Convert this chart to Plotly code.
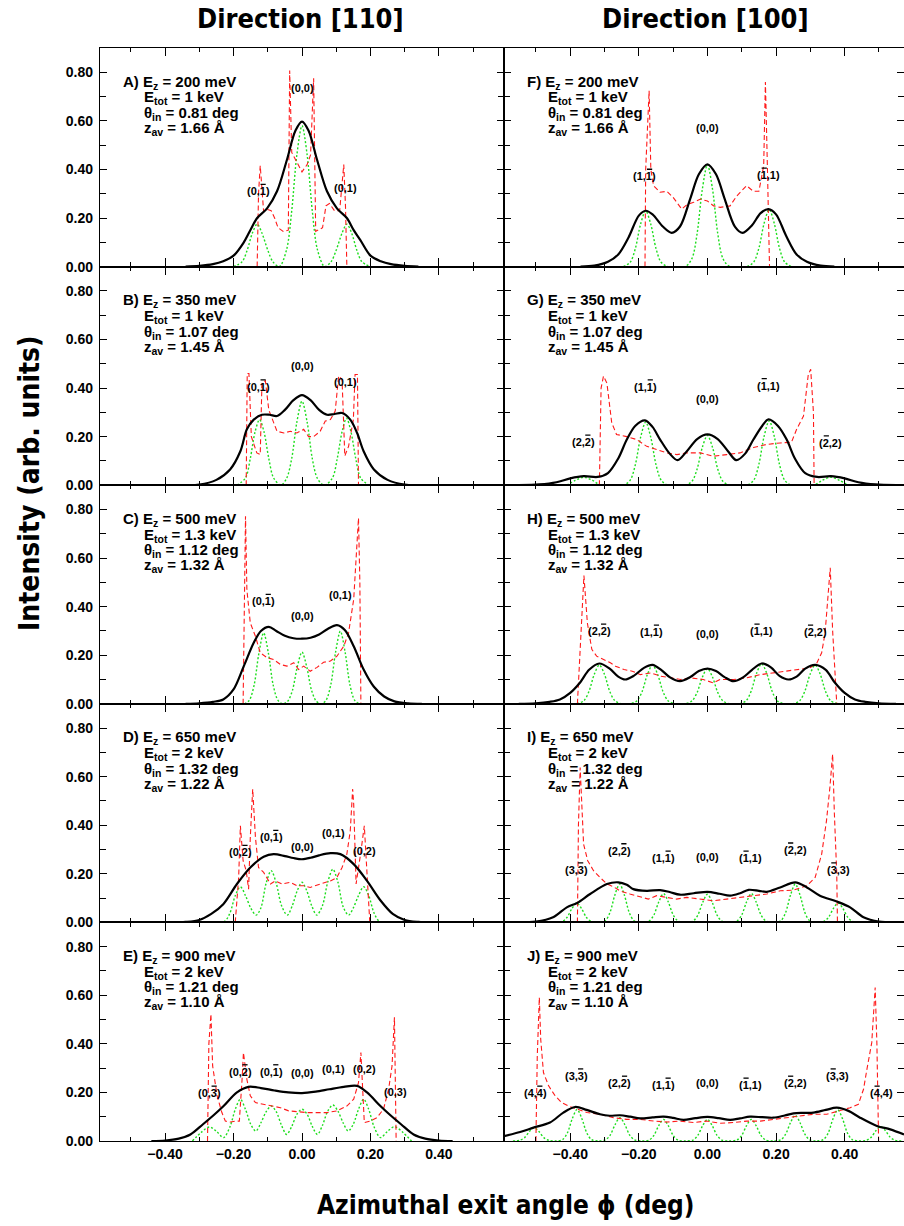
import plotly.graph_objects as go
from plotly.subplots import make_subplots

# ---------------- data ----------------
X_TICKS = [-0.4, -0.2, 0.0, 0.2, 0.4]
X_TICK_TEXT = ["\u22120.40", "\u22120.20", "0.00", "0.20", "0.40"]
X_MINOR = [-0.5, -0.3, -0.1, 0.1, 0.3, 0.5]
Y_TICKS = [0.0, 0.2, 0.4, 0.6, 0.8]
Y_TICK_TEXT = ["0.00", "0.20", "0.40", "0.60", "0.80"]
Y_MINOR = [0.1, 0.3, 0.5, 0.7]

COLUMN_TITLES = ["Direction [110]", "Direction [100]"]
PANEL_LETTERS = [["A", "B", "C", "D", "E"], ["F", "G", "H", "I", "J"]]
EZ_MEV = ["200", "350", "500", "650", "900"]
ETOT_KEV = ["1", "1", "1.3", "2", "2"]
THETA_IN = ["0.81", "1.07", "1.12", "1.32", "1.21"]
Z_AV = ["1.66", "1.45", "1.32", "1.22", "1.10"]

# labels: (x, y, text, which index carries an overbar: 0 none, 1 first, 2 second)
# ---- Panel A ----
A_black_x = [-0.34,-0.30,-0.26,-0.23,-0.20,-0.17,-0.151,-0.131,-0.102,-0.073,-0.044,-0.019,0,0.019,0.044,0.073,0.102,0.131,0.151,0.17,0.20,0.23,0.26,0.30,0.34]
A_black_y = [0,0.003,0.01,0.022,0.045,0.10,0.15,0.20,0.24,0.31,0.44,0.56,0.597,0.56,0.44,0.31,0.24,0.20,0.15,0.11,0.045,0.022,0.01,0.003,0]
A_green_x = [-0.20,-0.175,-0.16,-0.145,-0.131,-0.117,-0.10,-0.085,-0.066,-0.045,-0.03,-0.015,0,0.015,0.03,0.045,0.066,0.085,0.10,0.117,0.131,0.145,0.16,0.175,0.20]
A_green_y = [0,0.02,0.068,0.138,0.175,0.138,0.068,0.02,0,0.07,0.23,0.46,0.58,0.46,0.23,0.07,0,0.02,0.068,0.138,0.175,0.138,0.068,0.02,0]
A_red_x = [-0.131,-0.127,-0.122,-0.116,-0.112,-0.10,-0.09,-0.08,-0.07,-0.055,-0.04,-0.036,-0.03,-0.015,0,0.015,0.025,0.034,0.04,0.06,0.07,0.08,0.095,0.11,0.122,0.127,0.131]
A_red_y = [0,0.30,0.416,0.30,0.225,0.235,0.23,0.20,0.16,0.145,0.15,0.807,0.47,0.43,0.39,0.42,0.46,0.775,0.145,0.16,0.25,0.26,0.23,0.23,0.42,0.25,0]
A_labels = [(-0.127, 0.31, "(0,1)", 2), (0.0, 0.734, "(0,0)", 0), (0.128, 0.322, "(0,1)", 0)]

# ---- Panel B ----
B_black_x = [-0.34,-0.30,-0.25,-0.21,-0.18,-0.161,-0.141,-0.117,-0.095,-0.073,-0.05,-0.025,0,0.025,0.05,0.073,0.095,0.117,0.141,0.161,0.18,0.21,0.25,0.30,0.34]
B_black_y = [0,0.002,0.022,0.065,0.14,0.23,0.27,0.29,0.29,0.285,0.31,0.35,0.371,0.35,0.31,0.29,0.293,0.297,0.27,0.215,0.14,0.065,0.022,0.002,0]
B_green_x = [-0.19,-0.165,-0.151,-0.137,-0.124,-0.111,-0.097,-0.083,-0.062,-0.045,-0.03,-0.015,0,0.015,0.03,0.045,0.065,0.089,0.103,0.117,0.13,0.143,0.157,0.171,0.195]
B_green_y = [0,0.03,0.11,0.22,0.27,0.22,0.11,0.03,0,0.028,0.11,0.26,0.346,0.26,0.11,0.028,0,0.03,0.11,0.22,0.276,0.22,0.11,0.03,0]
B_red_x = [-0.163,-0.160,-0.155,-0.148,-0.132,-0.122,-0.117,-0.107,-0.097,-0.087,-0.073,-0.053,-0.034,-0.015,0.005,0.019,0.034,0.053,0.068,0.083,0.097,0.107,0.117,0.125,0.136,0.15,0.155,0.162,0.165]
B_red_y = [0,0.46,0.46,0.2,0.133,0.126,0.42,0.43,0.31,0.27,0.222,0.215,0.222,0.215,0.23,0.2,0.2,0.222,0.264,0.27,0.305,0.45,0.435,0.12,0.16,0.27,0.456,0.456,0]
B_labels = [(-0.127, 0.405, "(0,1)", 2), (0.0, 0.49, "(0,0)", 0), (0.127, 0.425, "(0,1)", 0)]

# ---- Panel C ----
C_black_x = [-0.34,-0.30,-0.26,-0.23,-0.20,-0.17,-0.141,-0.12,-0.097,-0.075,-0.05,-0.025,0,0.025,0.05,0.075,0.102,0.125,0.151,0.18,0.21,0.24,0.27,0.31,0.35]
C_black_y = [0,0.002,0.008,0.018,0.059,0.155,0.251,0.3,0.317,0.3,0.28,0.27,0.268,0.272,0.285,0.308,0.324,0.304,0.237,0.141,0.07,0.03,0.01,0.002,0]
C_green_x = [-0.168,-0.154,-0.14,-0.126,-0.112,-0.098,-0.084,-0.07,-0.056,-0.042,-0.028,-0.014,0,0.014,0.028,0.042,0.056,0.07,0.084,0.098,0.112,0.126,0.14,0.154,0.168]
C_green_y = [0,0.014,0.076,0.207,0.292,0.207,0.076,0.014,0,0.01,0.055,0.151,0.213,0.151,0.055,0.01,0,0.014,0.078,0.212,0.299,0.212,0.078,0.014,0]
C_red_x = [-0.172,-0.168,-0.165,-0.161,-0.151,-0.136,-0.122,-0.102,-0.083,-0.063,-0.044,-0.024,-0.01,0.005,0.024,0.044,0.063,0.083,0.102,0.122,0.136,0.151,0.161,0.165,0.169,0.172]
C_red_y = [0,0.5,0.772,0.47,0.333,0.278,0.21,0.19,0.182,0.162,0.155,0.169,0.141,0.155,0.134,0.15,0.171,0.176,0.196,0.237,0.292,0.43,0.676,0.765,0.5,0]
C_labels = [(-0.112, 0.422, "(0,1)", 2), (0.0, 0.361, "(0,0)", 0), (0.112, 0.447, "(0,1)", 0)]

# ---- Panel D ----
D_black_x = [-0.38,-0.34,-0.30,-0.265,-0.23,-0.19,-0.151,-0.112,-0.083,-0.05,-0.025,0,0.025,0.05,0.083,0.112,0.151,0.19,0.23,0.265,0.30,0.34,0.38]
D_black_y = [0,0.002,0.01,0.035,0.075,0.158,0.226,0.27,0.281,0.273,0.265,0.26,0.266,0.276,0.285,0.281,0.24,0.171,0.089,0.035,0.01,0.002,0]
D_green_x = [-0.24,-0.225,-0.21,-0.195,-0.18,-0.165,-0.15,-0.134,-0.12,-0.105,-0.09,-0.075,-0.06,-0.043,-0.028,-0.014,0,0.014,0.028,0.043,0.06,0.075,0.09,0.105,0.12,0.136,0.15,0.165,0.18,0.195,0.21,0.225,0.24]
D_green_y = [0,0.005,0.04,0.11,0.147,0.11,0.06,0.03,0.06,0.16,0.213,0.16,0.07,0.03,0.07,0.13,0.165,0.13,0.07,0.03,0.07,0.165,0.219,0.165,0.065,0.03,0.06,0.11,0.147,0.11,0.04,0.005,0]
D_red_x = [-0.195,-0.185,-0.180,-0.172,-0.163,-0.156,-0.151,-0.144,-0.136,-0.127,-0.112,-0.092,-0.078,-0.058,-0.034,-0.015,0.005,0.024,0.054,0.083,0.102,0.117,0.131,0.141,0.148,0.151,0.158,0.164,0.171,0.182,0.19,0.198]
D_red_y = [0,0.185,0.398,0.254,0.213,0.137,0.35,0.549,0.35,0.226,0.206,0.158,0.171,0.158,0.165,0.151,0.151,0.144,0.158,0.171,0.185,0.226,0.281,0.377,0.549,0.487,0.158,0.213,0.281,0.398,0.185,0]
D_labels = [(-0.18, 0.288, "(0,2)", 2), (-0.09, 0.35, "(0,1)", 2), (0.0, 0.311, "(0,0)", 0),
            (0.092, 0.37, "(0,1)", 0), (0.182, 0.295, "(0,2)", 0)]

# ---- Panel E ----
E_black_x = [-0.44,-0.40,-0.36,-0.326,-0.29,-0.255,-0.229,-0.19,-0.156,-0.12,-0.08,-0.04,0,0.04,0.08,0.122,0.161,0.19,0.229,0.255,0.29,0.326,0.36,0.40,0.44]
E_black_y = [0,0.002,0.01,0.027,0.068,0.11,0.144,0.2,0.223,0.218,0.208,0.2,0.197,0.203,0.213,0.223,0.227,0.2,0.144,0.11,0.068,0.027,0.01,0.002,0]
E_green_x = [-0.32,-0.295,-0.27,-0.25,-0.229,-0.21,-0.195,-0.18,-0.165,-0.15,-0.135,-0.12,-0.105,-0.09,-0.075,-0.06,-0.045,-0.03,-0.015,0,0.015,0.03,0.045,0.06,0.075,0.09,0.105,0.12,0.135,0.15,0.165,0.18,0.195,0.21,0.229,0.25,0.27,0.295,0.32]
E_green_y = [0,0.035,0.058,0.04,0.014,0.06,0.13,0.172,0.13,0.07,0.041,0.075,0.12,0.144,0.12,0.065,0.027,0.06,0.11,0.131,0.11,0.06,0.027,0.065,0.123,0.148,0.123,0.075,0.041,0.07,0.13,0.172,0.13,0.06,0.014,0.04,0.059,0.035,0]
E_red_x = [-0.276,-0.272,-0.266,-0.261,-0.248,-0.234,-0.224,-0.209,-0.195,-0.183,-0.175,-0.171,-0.161,-0.151,-0.136,-0.112,-0.088,-0.063,-0.039,-0.015,0.015,0.044,0.073,0.102,0.131,0.151,0.165,0.172,0.178,0.182,0.199,0.219,0.238,0.253,0.263,0.27,0.275]
E_red_y = [0,0.4,0.522,0.309,0.186,0.117,0.082,0.078,0.082,0.082,0.254,0.364,0.254,0.186,0.158,0.151,0.144,0.137,0.124,0.12,0.117,0.117,0.117,0.124,0.144,0.172,0.24,0.364,0.172,0.076,0.082,0.096,0.131,0.213,0.309,0.509,0]
E_labels = [(-0.27, 0.197, "(0,3)", 2), (-0.18, 0.285, "(0,2)", 2), (-0.09, 0.285, "(0,1)", 2),
            (0.0, 0.282, "(0,0)", 0), (0.092, 0.296, "(0,1)", 0), (0.182, 0.296, "(0,2)", 0), (0.272, 0.202, "(0,3)", 0)]

# ---- Panel F ----
F_black_x = [-0.37,-0.33,-0.29,-0.26,-0.23,-0.20,-0.18,-0.16,-0.13,-0.104,-0.08,-0.05,-0.025,0,0.025,0.05,0.08,0.103,0.13,0.155,0.178,0.20,0.23,0.26,0.29,0.33,0.37]
F_black_y = [0,0.004,0.02,0.05,0.12,0.21,0.23,0.215,0.165,0.139,0.165,0.28,0.38,0.421,0.38,0.28,0.165,0.139,0.17,0.22,0.237,0.215,0.125,0.05,0.02,0.004,0]
F_green_x = [-0.245,-0.225,-0.21,-0.195,-0.18,-0.165,-0.15,-0.135,-0.115,-0.065,-0.045,-0.03,-0.015,0,0.015,0.03,0.045,0.065,0.115,0.135,0.15,0.165,0.18,0.195,0.21,0.225,0.245]
F_green_y = [0,0.018,0.075,0.174,0.23,0.174,0.075,0.018,0,0,0.034,0.137,0.317,0.42,0.317,0.137,0.034,0,0,0.019,0.076,0.177,0.235,0.177,0.076,0.019,0]
F_red_x = [-0.182,-0.180,-0.17,-0.165,-0.157,-0.138,-0.118,-0.10,-0.075,-0.06,-0.04,-0.02,0,0.018,0.037,0.066,0.085,0.114,0.134,0.15,0.164,0.169,0.175,0.181]
F_red_y = [0,0.40,0.724,0.40,0.333,0.306,0.31,0.285,0.237,0.255,0.265,0.278,0.27,0.25,0.244,0.25,0.29,0.333,0.31,0.31,0.415,0.76,0.40,0]
F_labels = [(-0.182, 0.372, "(1,1)", 2), (0.0, 0.569, "(0,0)", 0), (0.179, 0.377, "(1,1)", 1)]

# ---- Panel G ----
G_black_x = [-0.55,-0.49,-0.44,-0.40,-0.36,-0.32,-0.29,-0.26,-0.235,-0.21,-0.182,-0.16,-0.138,-0.11,-0.087,-0.06,-0.03,0,0.03,0.06,0.084,0.11,0.134,0.16,0.178,0.205,0.231,0.255,0.285,0.32,0.36,0.40,0.44,0.49,0.55]
G_black_y = [0,0.003,0.012,0.028,0.037,0.034,0.05,0.11,0.188,0.245,0.267,0.24,0.188,0.13,0.103,0.14,0.19,0.209,0.19,0.14,0.103,0.13,0.188,0.245,0.271,0.245,0.188,0.11,0.05,0.034,0.037,0.028,0.012,0.003,0]
G_green_x = [-0.41,-0.385,-0.36,-0.335,-0.31,-0.245,-0.225,-0.21,-0.195,-0.18,-0.165,-0.15,-0.135,-0.115,-0.065,-0.045,-0.03,-0.015,0,0.015,0.03,0.045,0.065,0.115,0.135,0.15,0.165,0.18,0.195,0.21,0.225,0.245,0.31,0.335,0.36,0.385,0.41]
G_green_y = [0,0.02,0.033,0.02,0,0,0.021,0.085,0.196,0.26,0.196,0.085,0.021,0,0,0.016,0.067,0.155,0.205,0.155,0.067,0.016,0,0,0.021,0.086,0.2,0.265,0.2,0.086,0.021,0,0,0.02,0.033,0.02,0]
G_red_x = [-0.315,-0.31,-0.303,-0.293,-0.279,-0.265,-0.235,-0.206,-0.177,-0.148,-0.118,-0.089,-0.06,-0.02,0.017,0.056,0.095,0.134,0.173,0.212,0.245,0.26,0.28,0.294,0.301,0.309,0.311]
G_red_y = [0,0.40,0.449,0.42,0.257,0.209,0.2,0.188,0.16,0.147,0.133,0.126,0.133,0.133,0.119,0.126,0.133,0.155,0.168,0.174,0.177,0.23,0.285,0.456,0.477,0.3,0]
G_labels = [(-0.362, 0.177, "(2,2)", 2), (-0.18, 0.405, "(1,1)", 2), (0.0, 0.356, "(0,0)", 0),
            (0.179, 0.41, "(1,1)", 1), (0.36, 0.174, "(2,2)", 1)]

# ---- Panel H ----
H_black_x = [-0.55,-0.50,-0.46,-0.43,-0.40,-0.37,-0.345,-0.315,-0.285,-0.26,-0.24,-0.215,-0.185,-0.16,-0.135,-0.11,-0.08,-0.05,-0.025,0,0.025,0.05,0.076,0.105,0.13,0.158,0.185,0.21,0.236,0.26,0.285,0.314,0.345,0.37,0.40,0.43,0.46,0.50,0.55]
H_black_y = [0,0.002,0.008,0.018,0.045,0.09,0.14,0.166,0.145,0.112,0.1,0.115,0.148,0.16,0.14,0.11,0.093,0.11,0.135,0.145,0.135,0.11,0.093,0.11,0.14,0.166,0.15,0.115,0.1,0.112,0.145,0.16,0.14,0.09,0.045,0.018,0.008,0.002,0]
H_green_x = [-0.38,-0.36,-0.345,-0.33,-0.315,-0.3,-0.285,-0.27,-0.25,-0.225,-0.205,-0.19,-0.175,-0.16,-0.145,-0.13,-0.115,-0.095,-0.065,-0.045,-0.03,-0.015,0,0.015,0.03,0.045,0.065,0.093,0.113,0.128,0.143,0.158,0.173,0.188,0.203,0.223,0.249,0.269,0.284,0.299,0.314,0.329,0.344,0.359,0.379]
H_green_y = [0,0.013,0.052,0.121,0.16,0.121,0.052,0.013,0,0,0.013,0.052,0.121,0.16,0.121,0.052,0.013,0,0,0.012,0.047,0.109,0.145,0.109,0.047,0.012,0,0,0.013,0.054,0.125,0.165,0.125,0.054,0.013,0,0,0.013,0.052,0.121,0.16,0.121,0.052,0.013,0]
H_red_x = [-0.379,-0.37,-0.36,-0.35,-0.337,-0.323,-0.303,-0.283,-0.268,-0.243,-0.219,-0.195,-0.166,-0.137,-0.107,-0.078,-0.05,-0.012,0.017,0.037,0.076,0.115,0.154,0.192,0.231,0.27,0.299,0.319,0.333,0.343,0.355,0.358,0.365,0.377]
H_red_y = [0,0.25,0.528,0.333,0.224,0.196,0.182,0.169,0.155,0.141,0.134,0.12,0.127,0.114,0.107,0.1,0.107,0.1,0.086,0.1,0.1,0.107,0.12,0.127,0.134,0.141,0.148,0.168,0.21,0.292,0.5,0.56,0.3,0]
H_labels = [(-0.316, 0.299, "(2,2)", 2), (-0.162, 0.295, "(1,1)", 2), (0.0, 0.288, "(0,0)", 0),
            (0.158, 0.299, "(1,1)", 1), (0.314, 0.295, "(2,2)", 1)]

# ---- Panel I ----
I_black_x = [-0.55,-0.50,-0.45,-0.41,-0.38,-0.342,-0.293,-0.26,-0.235,-0.216,-0.177,-0.138,-0.11,-0.08,-0.04,0,0.035,0.066,0.095,0.12,0.15,0.173,0.212,0.256,0.29,0.328,0.377,0.416,0.455,0.50,0.55]
I_black_y = [0,0.003,0.021,0.062,0.08,0.117,0.158,0.165,0.155,0.137,0.13,0.133,0.125,0.114,0.12,0.126,0.118,0.11,0.12,0.134,0.13,0.126,0.144,0.165,0.144,0.11,0.086,0.062,0.021,0.003,0]
I_green_x = [-0.443,-0.423,-0.409,-0.395,-0.381,-0.367,-0.353,-0.339,-0.3185,-0.298,-0.284,-0.27,-0.256,-0.242,-0.228,-0.214,-0.192,-0.17,-0.156,-0.142,-0.128,-0.114,-0.1,-0.086,-0.064,-0.042,-0.028,-0.014,0,0.014,0.028,0.042,0.064,0.086,0.1,0.114,0.128,0.142,0.156,0.17,0.192,0.214,0.228,0.242,0.256,0.27,0.284,0.298,0.3185,0.339,0.353,0.367,0.381,0.395,0.409,0.423,0.443]
I_green_y = [0,0.004,0.021,0.057,0.08,0.057,0.021,0.004,0,0.007,0.041,0.112,0.158,0.112,0.041,0.007,0,0.006,0.031,0.084,0.119,0.084,0.031,0.006,0,0.005,0.03,0.082,0.116,0.082,0.03,0.005,0,0.006,0.031,0.084,0.119,0.084,0.031,0.006,0,0.007,0.041,0.112,0.158,0.112,0.041,0.007,0,0.004,0.021,0.057,0.08,0.057,0.021,0.004,0]
I_red_x = [-0.379,-0.376,-0.371,-0.361,-0.349,-0.332,-0.313,-0.293,-0.274,-0.255,-0.226,-0.197,-0.172,-0.148,-0.119,-0.09,-0.06,-0.02,0.017,0.056,0.095,0.134,0.173,0.212,0.251,0.29,0.314,0.333,0.347,0.357,0.365,0.37,0.377,0.379]
I_red_y = [0,0.4,0.638,0.322,0.254,0.213,0.185,0.158,0.147,0.13,0.117,0.106,0.096,0.11,0.103,0.096,0.103,0.096,0.089,0.096,0.103,0.11,0.117,0.13,0.133,0.151,0.185,0.281,0.418,0.556,0.693,0.45,0.2,0]
I_labels = [(-0.383, 0.216, "(3,3)", 2), (-0.257, 0.295, "(2,2)", 2), (-0.128, 0.265, "(1,1)", 2),
            (0.0, 0.268, "(0,0)", 0), (0.126, 0.265, "(1,1)", 1), (0.256, 0.298, "(2,2)", 1),
            (0.382, 0.216, "(3,3)", 1)]

# ---- Panel J ----
J_black_x = [-0.593,-0.546,-0.507,-0.459,-0.42,-0.386,-0.352,-0.313,-0.285,-0.255,-0.225,-0.196,-0.16,-0.128,-0.1,-0.07,-0.035,0,0.033,0.066,0.095,0.124,0.16,0.192,0.225,0.251,0.28,0.309,0.345,0.377,0.411,0.445,0.494,0.533,0.573]
J_black_y = [0.02,0.037,0.055,0.076,0.117,0.14,0.128,0.11,0.104,0.106,0.1,0.093,0.097,0.1,0.095,0.087,0.094,0.099,0.094,0.087,0.093,0.1,0.098,0.096,0.105,0.114,0.116,0.117,0.128,0.137,0.124,0.096,0.062,0.048,0.027]
J_green_x = [-0.567,-0.547,-0.533,-0.519,-0.505,-0.491,-0.477,-0.463,-0.4425,
             -0.422,-0.408,-0.394,-0.38,-0.366,-0.352,-0.338,-0.3175,
             -0.297,-0.283,-0.269,-0.255,-0.241,-0.227,-0.213,-0.1915,
             -0.17,-0.156,-0.142,-0.128,-0.114,-0.1,-0.086,-0.064,
             -0.042,-0.028,-0.014,0,0.014,0.028,0.042,0.064,
             0.086,0.1,0.114,0.128,0.142,0.156,0.17,0.192,
             0.214,0.228,0.242,0.256,0.27,0.284,0.298,0.318,
             0.338,0.352,0.366,0.38,0.394,0.408,0.422,0.4425,
             0.463,0.477,0.491,0.505,0.519,0.533,0.547,0.567]
J_green_y = [0,0.003,0.014,0.039,0.055,0.039,0.014,0.003,0,
             0.006,0.034,0.092,0.13,0.092,0.034,0.006,0,
             0.005,0.025,0.068,0.096,0.068,0.025,0.005,0,
             0.004,0.023,0.063,0.089,0.063,0.023,0.004,0,
             0.004,0.023,0.063,0.089,0.063,0.023,0.004,0,
             0.004,0.023,0.063,0.089,0.063,0.023,0.004,0,
             0.005,0.028,0.075,0.106,0.075,0.028,0.005,0,
             0.006,0.033,0.091,0.128,0.091,0.033,0.006,0,
             0.003,0.015,0.042,0.059,0.042,0.015,0.003,0]
J_red_x = [-0.5,-0.496,-0.49,-0.486,-0.478,-0.463,-0.444,-0.425,-0.405,-0.38,-0.351,-0.313,-0.274,-0.235,-0.196,-0.157,-0.118,-0.08,-0.041,-0.002,0.037,0.076,0.115,0.154,0.192,0.231,0.27,0.309,0.348,0.387,0.416,0.44,0.455,0.465,0.479,0.489,0.494,0.499]
J_red_y = [0,0.35,0.591,0.419,0.282,0.227,0.186,0.158,0.144,0.131,0.117,0.11,0.096,0.089,0.089,0.082,0.078,0.082,0.076,0.082,0.073,0.076,0.082,0.082,0.089,0.096,0.103,0.11,0.11,0.124,0.137,0.151,0.213,0.296,0.405,0.632,0.4,0]
J_labels = [(-0.502, 0.197, "(4,4)", 2), (-0.383, 0.268, "(3,3)", 2), (-0.255, 0.238, "(2,2)", 2),
            (-0.128, 0.23, "(1,1)", 2), (0.0, 0.238, "(0,0)", 0), (0.126, 0.23, "(1,1)", 1),
            (0.256, 0.238, "(2,2)", 1), (0.38, 0.268, "(3,3)", 1), (0.508, 0.197, "(4,4)", 1)]

PANELS = [
    [(A_black_x, A_black_y, A_green_x, A_green_y, A_red_x, A_red_y, A_labels),
     (B_black_x, B_black_y, B_green_x, B_green_y, B_red_x, B_red_y, B_labels),
     (C_black_x, C_black_y, C_green_x, C_green_y, C_red_x, C_red_y, C_labels),
     (D_black_x, D_black_y, D_green_x, D_green_y, D_red_x, D_red_y, D_labels),
     (E_black_x, E_black_y, E_green_x, E_green_y, E_red_x, E_red_y, E_labels)],
    [(F_black_x, F_black_y, F_green_x, F_green_y, F_red_x, F_red_y, F_labels),
     (G_black_x, G_black_y, G_green_x, G_green_y, G_red_x, G_red_y, G_labels),
     (H_black_x, H_black_y, H_green_x, H_green_y, H_red_x, H_red_y, H_labels),
     (I_black_x, I_black_y, I_green_x, I_green_y, I_red_x, I_red_y, I_labels),
     (J_black_x, J_black_y, J_green_x, J_green_y, J_red_x, J_red_y, J_labels)],
]

# ---------------- layout constants ----------------
W, H = 904, 1226
ML, MR, MT, MB = 100, 0, 48, 85
PW, PH = W - ML - MR, H - MT - MB
XSPLIT = 404 / PW
ROW_H = PH / 5
X_RANGES = [[-0.59, 0.59], [-0.593, 0.573]]
Y_RANGE = [0, 0.9]

FONT = "Liberation Sans, Arial, sans-serif"
NARROW = "Liberation Sans Narrow, DejaVu Sans Condensed, Liberation Sans, Arial"
GREEN = "#1ede1e"
RED = "#ff1a1a"
LABEL_SIZE = 11
DIGIT_OFFSET = 4.6   # px from label centre to the centre of each index digit
BAR_RAISE = 7.0      # px above label centre


def paper(px, py):
    return (px - ML) / PW, (MT + PH - py) / PH


fig = make_subplots(rows=5, cols=2, horizontal_spacing=0, vertical_spacing=0)

annotations = []
shapes = []
for c in range(2):
    for r in range(5):
        bx, by, gx, gy, rx, ry, labels = PANELS[c][r]
        fig.add_trace(go.Scatter(x=gx, y=gy, mode="lines", hoverinfo="skip", showlegend=False,
                                 line=dict(color=GREEN, width=1.4, dash="2px,2px", shape="spline", smoothing=0.9)),
                      row=r + 1, col=c + 1)
        fig.add_trace(go.Scatter(x=rx, y=ry, mode="lines", hoverinfo="skip", showlegend=False,
                                 line=dict(color=RED, width=1.1, dash="5px,3px")),
                      row=r + 1, col=c + 1)
        fig.add_trace(go.Scatter(x=bx, y=by, mode="lines", hoverinfo="skip", showlegend=False,
                                 line=dict(color="black", width=2.2, shape="spline", smoothing=0.9)),
                      row=r + 1, col=c + 1)
        n = r * 2 + c + 1
        xref = "x" if n == 1 else f"x{n}"
        yref = "y" if n == 1 else f"y{n}"
        for lx, ly, lt, bar in labels:
            annotations.append(dict(x=lx, y=ly, xref=xref, yref=yref, text=lt, showarrow=False,
                                    xanchor="center", yanchor="middle",
                                    font=dict(family=FONT, size=LABEL_SIZE, color="black", weight="bold")))
            if bar:
                off = -DIGIT_OFFSET if bar == 1 else DIGIT_OFFSET
                shapes.append(dict(type="line", xref=xref, yref=yref, xsizemode="pixel", ysizemode="pixel",
                                   xanchor=lx, yanchor=ly, x0=off - 2.6, x1=off + 2.6,
                                   y0=BAR_RAISE, y1=BAR_RAISE, line=dict(color="black", width=1.3)))
        # panel parameter text
        left_px = ML if c == 0 else ML + 404
        top_px = MT + r * ROW_H
        lines = [
            (21, 34.0, f"{PANEL_LETTERS[c][r]}) E<sub>z</sub> = {EZ_MEV[r]} meV"),
            (42, 50.0, f"E<sub>tot</sub> = {ETOT_KEV[r]} keV"),
            (42, 65.5, f"\u03b8<sub>in</sub> = {THETA_IN[r]} deg"),
            (42, 80.5, f"z<sub>av</sub> = {Z_AV[r]} \u00c5"),
        ]
        for dx, dy, txt in lines:
            px, py = paper(left_px + dx, top_px + dy)
            annotations.append(dict(x=px, y=py, xref="paper", yref="paper", text=txt, showarrow=False,
                                    xanchor="left", yanchor="middle",
                                    font=dict(family=FONT, size=15, color="black", weight="bold")))

        fig.update_xaxes(row=r + 1, col=c + 1, range=X_RANGES[c],
                         domain=[0, XSPLIT] if c == 0 else [XSPLIT, 1],
                         showline=True, linecolor="black", linewidth=1.3, mirror="ticks",
                         ticks="inside", ticklen=8, tickwidth=1.2, tickcolor="black",
                         tickmode="array", tickvals=X_TICKS, ticktext=X_TICK_TEXT,
                         showticklabels=(r == 4), ticklabelstandoff=0,
                         tickfont=dict(family=FONT, size=14, color="black", weight="bold"),
                         minor=dict(tickmode="array", tickvals=X_MINOR, ticks="inside", ticklen=4,
                                    tickwidth=1.2, tickcolor="black", showgrid=False),
                         showgrid=False, zeroline=False, fixedrange=True)
        fig.update_yaxes(row=r + 1, col=c + 1, range=Y_RANGE,
                         showline=True, linecolor="black", linewidth=1.3, mirror="ticks",
                         ticks="inside", ticklen=7, tickwidth=1.2, tickcolor="black",
                         tickmode="array", tickvals=Y_TICKS, ticktext=Y_TICK_TEXT,
                         showticklabels=(c == 0), ticklabelstandoff=3,
                         tickfont=dict(family=FONT, size=14, color="black", weight="bold"),
                         minor=dict(tickmode="array", tickvals=Y_MINOR, ticks="inside", ticklen=6,
                                    tickwidth=1.2, tickcolor="black", showgrid=False),
                         showgrid=False, zeroline=False, fixedrange=True)

# column titles and axis titles
for i, t in enumerate(COLUMN_TITLES):
    px, py = paper(300 if i == 0 else 705, 19)
    annotations.append(dict(x=px, y=py, xref="paper", yref="paper", text=t, showarrow=False,
                            xanchor="center", yanchor="middle",
                            font=dict(family=NARROW, size=27, color="black", weight="bold")))
px, py = paper(30, 483)
annotations.append(dict(x=px, y=py, xref="paper", yref="paper", text="Intensity (arb. units)",
                        showarrow=False, textangle=-90, xanchor="center", yanchor="middle",
                        font=dict(family=NARROW, size=28, color="black", weight="bold")))
px, py = paper(506, 1205)
annotations.append(dict(x=px, y=py, xref="paper", yref="paper", text="Azimuthal exit angle \u03d5 (deg)",
                        showarrow=False, xanchor="center", yanchor="middle",
                        font=dict(family=NARROW, size=26, color="black", weight="bold")))

fig.update_layout(width=W, height=H, margin=dict(l=ML, r=MR, t=MT, b=MB, autoexpand=False),
                  paper_bgcolor="white", plot_bgcolor="white", showlegend=False,
                  annotations=annotations, shapes=shapes)

fig.write_html("out.html")
